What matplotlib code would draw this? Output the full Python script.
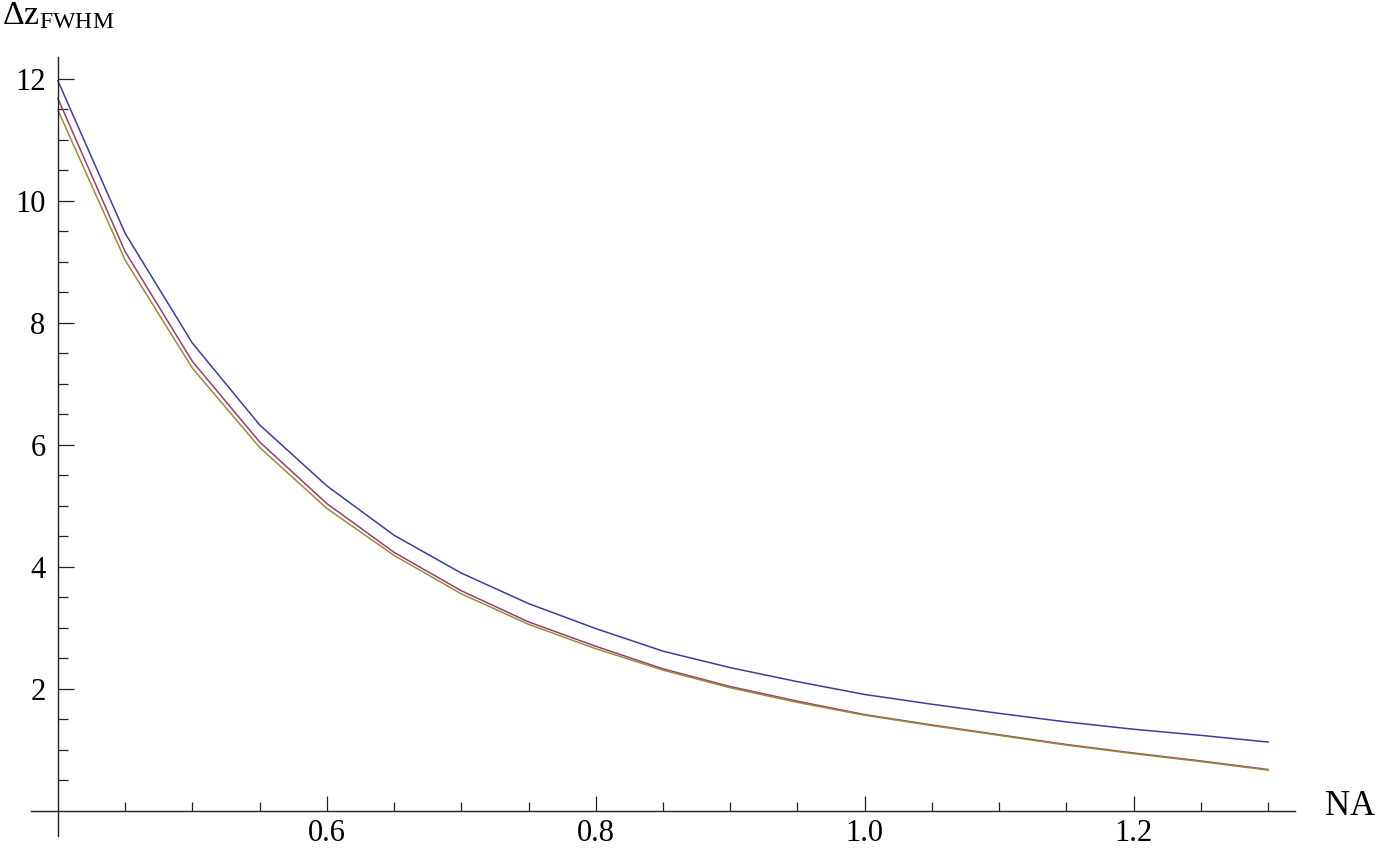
import matplotlib
matplotlib.use("Agg")
import matplotlib.pyplot as plt
from matplotlib.ticker import FixedLocator

plt.rcParams['font.family'] = ['Liberation Serif', 'DejaVu Serif']
plt.rcParams['mathtext.fontset'] = 'custom'
plt.rcParams['mathtext.rm'] = 'Liberation Serif'
plt.rcParams['mathtext.it'] = 'Liberation Serif:italic'

# Data
na = [0.40, 0.45, 0.50, 0.55, 0.60, 0.65, 0.70, 0.75, 0.80, 0.85,
      0.90, 0.95, 1.00, 1.05, 1.10, 1.15, 1.20, 1.25, 1.30]
dz_blue = [11.97, 9.47, 7.67, 6.33, 5.33, 4.52, 3.90, 3.40, 2.99, 2.62,
           2.35, 2.12, 1.91, 1.75, 1.60, 1.46, 1.34, 1.24, 1.13]
dz_purple = [11.68, 9.17, 7.37, 6.05, 5.04, 4.24, 3.61, 3.10, 2.70, 2.33,
             2.04, 1.80, 1.58, 1.41, 1.25, 1.09, 0.95, 0.82, 0.68]
dz_gold = [11.49, 9.03, 7.26, 5.96, 4.96, 4.19, 3.56, 3.06, 2.66, 2.31,
           2.02, 1.78, 1.57, 1.40, 1.24, 1.08, 0.94, 0.81, 0.67]
x_major = [0.6, 0.8, 1.0, 1.2]
x_labels = ['0.6', '0.8', '1.0', '1.2']
y_major = [2, 4, 6, 8, 10, 12]

W, H = 1379, 855
fig = plt.figure(figsize=(W / 100, H / 100), dpi=100)
left_px, right_px, top_px, bot_px = 31, 1295, 57, 836
ax = fig.add_axes([left_px / W, (H - bot_px) / H,
                   (right_px - left_px) / W, (bot_px - top_px) / H])
ax.set_xlim(0.38, 1.32)
ax.set_ylim(-0.41, 12.36)

c_blue = (0.24, 0.24, 0.6)
c_purple = (0.6, 0.24, 0.442)
c_gold = (0.6, 0.547, 0.24)
ax.plot(na, dz_blue, color=c_blue, lw=1.1)
ax.plot(na, dz_purple, color=c_purple, lw=1.1)
ax.plot(na, dz_gold, color=c_gold, lw=1.1)

for s in ['top', 'right']:
    ax.spines[s].set_visible(False)
ax.spines['left'].set_position(('data', 0.4))
ax.spines['bottom'].set_position(('data', 0))
for s in ['left', 'bottom']:
    ax.spines[s].set_linewidth(1.0)
    ax.spines[s].set_color('#222222')

ax.xaxis.set_major_locator(FixedLocator(x_major))
ax.xaxis.set_minor_locator(FixedLocator([0.45, 0.5, 0.55, 0.65, 0.7, 0.75, 0.85, 0.9, 0.95,
                                          1.05, 1.1, 1.15, 1.25, 1.3]))
ax.yaxis.set_major_locator(FixedLocator(y_major))
ax.yaxis.set_minor_locator(FixedLocator([0.5, 1, 1.5, 2.5, 3, 3.5, 4.5, 5, 5.5, 6.5, 7, 7.5,
                                          8.5, 9, 9.5, 10.5, 11, 11.5]))
ax.set_xticklabels(x_labels)
ax.set_yticklabels([str(v) for v in y_major])

ax.tick_params(which='both', direction='in', color='#222222', width=0.9, labelsize=22)
ax.tick_params(axis='x', which='major', length=10.5, pad=6)
ax.tick_params(axis='x', which='minor', length=6.5)
ax.tick_params(axis='y', which='major', length=11.5, pad=9)
ax.tick_params(axis='y', which='minor', length=7)

fig.text(2 / W, 1 - 1 / H, r'$\mathrm{\Delta z_{FWHM}}$', fontsize=24.5, ha='left', va='top')
fig.text(1325 / W, 1 - 806 / H, 'NA', fontsize=25, ha='left', va='center')

fig.savefig('out.png', dpi=100)
